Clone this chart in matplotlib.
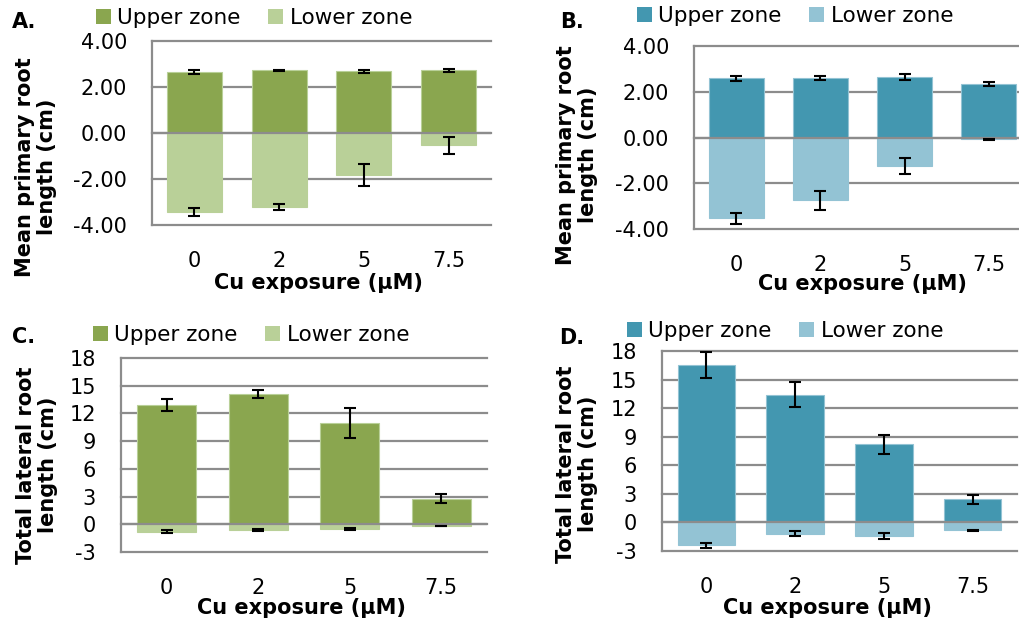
import numpy as np
import matplotlib
matplotlib.use("Agg")
from matplotlib import pyplot as plt
from matplotlib.patches import Patch

# Cu exposure levels (uM)
cu_levels = ["0", "2", "5", "7.5"]

# A. primary root, first genotype
a_upper = [2.64, 2.72, 2.68, 2.72]
a_upper_err = [0.08, 0.03, 0.05, 0.05]
a_lower = [-3.42, -3.22, -1.83, -0.54]
a_lower_err = [0.18, 0.14, 0.49, 0.38]

# B. primary root, second genotype
b_upper = [2.58, 2.60, 2.63, 2.34]
b_upper_err = [0.11, 0.10, 0.13, 0.09]
b_lower = [-3.53, -2.75, -1.24, -0.08]
b_lower_err = [0.25, 0.43, 0.36, 0.03]

# C. lateral roots, first genotype
c_upper = [12.9, 14.13, 10.95, 2.78]
c_upper_err = [0.69, 0.43, 1.66, 0.49]
c_lower = [-0.83, -0.62, -0.48, -0.20]
c_lower_err = [0.16, 0.12, 0.12, 0.03]

# D. lateral roots, second genotype
d_upper = [16.52, 13.4, 8.19, 2.45]
d_upper_err = [1.33, 1.33, 1.0, 0.47]
d_lower = [-2.42, -1.20, -1.47, -0.84]
d_lower_err = [0.23, 0.25, 0.31, 0.04]

primary_ticks = [-4, -2, 0, 2, 4]
lateral_ticks = [-3, 0, 3, 6, 9, 12, 15, 18]

GREEN = ("#8aa64f", "#b9d098")
TEAL = ("#4397b0", "#93c3d4")
GRID = "#8c8c8c"
W, H = 1020, 620

plt.rcParams["font.family"] = "DejaVu Sans"
fig = plt.figure(figsize=(W / 100, H / 100), dpi=100)


def px_axes(left, top, right, bottom):
    return fig.add_axes([left / W, 1 - bottom / H, (right - left) / W, (bottom - top) / H])


def draw_panel(ax, upper, upper_err, lower, lower_err, colors, ticks, fmt):
    x = np.arange(len(cu_levels))
    ax.bar(x, upper, width=0.65, color=colors[0], edgecolor=colors[1], linewidth=0.8, zorder=2)
    ax.bar(x, lower, width=0.65, color=colors[1], edgecolor=colors[1], linewidth=0.8, zorder=2)
    ax.errorbar(x, upper, yerr=upper_err, fmt="none", ecolor="black", elinewidth=1.5,
                capsize=4, capthick=1.5, zorder=4)
    ax.errorbar(x, lower, yerr=lower_err, fmt="none", ecolor="black", elinewidth=1.5,
                capsize=4, capthick=1.5, zorder=4)
    ax.axhline(0, color=GRID, lw=1.6, zorder=3)
    ax.set_xlim(-0.5, len(cu_levels) - 0.5)
    ax.set_ylim(ticks[0], ticks[-1])
    ax.set_yticks(ticks)
    ax.set_yticklabels([fmt.format(t) for t in ticks])
    ax.set_xticks(x)
    ax.set_xticklabels(cu_levels)
    ax.tick_params(axis="y", length=0, pad=18, labelsize=15)
    ax.tick_params(axis="x", length=0, pad=19, labelsize=15)
    ax.set_axisbelow(True)
    ax.grid(axis="y", color=GRID, lw=1.6)
    for line in ax.get_ygridlines():
        line.set_clip_on(False)
    for side in ["top", "right", "bottom"]:
        ax.spines[side].set_visible(False)
    ax.spines["left"].set_color(GRID)
    ax.spines["left"].set_linewidth(1.6)
    ax.spines["left"].set_zorder(3)


def add_legend(ax, colors, xpx, ypx):
    handles = [Patch(facecolor=colors[0], label="Upper zone"),
               Patch(facecolor=colors[1], label="Lower zone")]
    ax.legend(handles=handles, loc="center left", bbox_to_anchor=(xpx / W, 1 - ypx / H),
              bbox_transform=fig.transFigure, ncol=2, frameon=False, fontsize=15.5,
              handlelength=0.68, handleheight=0.68, handletextpad=0.3, columnspacing=1.3,
              borderpad=0, borderaxespad=0)


def label_text(xpx, ypx, text, **kw):
    fig.text(xpx / W, 1 - ypx / H, text, ha="center", va="center", fontsize=15,
             fontweight="bold", **kw)


ax_a = px_axes(152, 41, 491, 225)
draw_panel(ax_a, a_upper, a_upper_err, a_lower, a_lower_err, GREEN, primary_ticks, "{:.2f}")
add_legend(ax_a, GREEN, 96, 18)
label_text(24, 22, "A.")
label_text(36, 167, "Mean primary root\nlength (cm)", rotation=90, linespacing=1.15)
label_text(318, 283, "Cu exposure (\u00b5M)")

ax_b = px_axes(694, 46, 1031, 229)
draw_panel(ax_b, b_upper, b_upper_err, b_lower, b_lower_err, TEAL, primary_ticks, "{:.2f}")
add_legend(ax_b, TEAL, 637, 16)
label_text(572, 22, "B.")
label_text(577, 155, "Mean primary root\nlength (cm)", rotation=90, linespacing=1.15)
label_text(862, 284, "Cu exposure (\u00b5M)")

ax_c = px_axes(121, 358, 487, 552)
draw_panel(ax_c, c_upper, c_upper_err, c_lower, c_lower_err, GREEN, lateral_ticks, "{:d}")
add_legend(ax_c, GREEN, 93, 335)
label_text(24, 337, "C.")
label_text(37, 465, "Total lateral root\nlength (cm)", rotation=90, linespacing=1.15)
label_text(301, 608, "Cu exposure (\u00b5M)")

ax_d = px_axes(662, 351, 1017, 551)
draw_panel(ax_d, d_upper, d_upper_err, d_lower, d_lower_err, TEAL, lateral_ticks, "{:d}")
add_legend(ax_d, TEAL, 627, 331)
label_text(572, 338, "D.")
label_text(577, 464, "Total lateral root\nlength (cm)", rotation=90, linespacing=1.15)
label_text(827, 608, "Cu exposure (\u00b5M)")

plt.savefig("out.png", dpi=100)
